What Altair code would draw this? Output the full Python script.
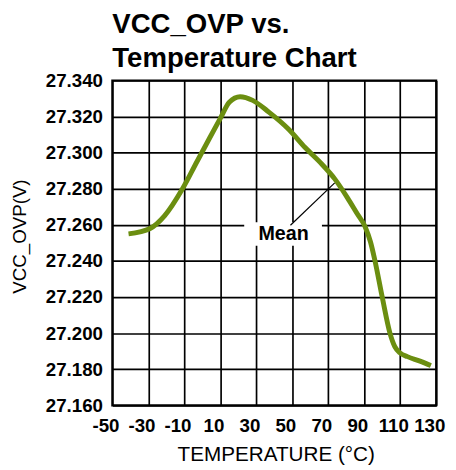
import altair as alt
import pandas as pd

# Mean curve
temps = [-41, -29, -21, -11, -3, 4, 10, 15, 21, 28, 37, 48, 57, 66.5, 73.6, 80.7,
         86.2, 90.5, 93.5, 96, 100, 104.3, 107, 110, 114, 121, 127]
vovp = [27.255, 27.258, 27.265, 27.280, 27.295, 27.308, 27.319, 27.328, 27.331,
        27.329, 27.3225, 27.313, 27.303, 27.2936, 27.2855, 27.275, 27.266, 27.259,
        27.2505, 27.240, 27.220, 27.200, 27.1925, 27.189, 27.187, 27.1845, 27.182]

x_ticks = [-50, -30, -10, 10, 30, 50, 70, 90, 110, 130]
y_ticks = [27.16, 27.18, 27.20, 27.22, 27.24, 27.26, 27.28, 27.30, 27.32, 27.34]

# "Mean" annotation (data coordinates)
label_text = ["Mean"]
label_x = [45.2]
label_y = [27.2516]
box_x = [23.3, 66.5]
box_y = [27.2484, 27.2615]
leader_x = [49.0, 73.6]
leader_y = [27.2598, 27.2833]

df = pd.DataFrame({"temp": temps, "v": vovp})
ann = pd.DataFrame({
    "label": label_text, "lx": label_x, "ly": label_y,
    "bx": [box_x[0]], "bx2": [box_x[1]], "by": [box_y[0]], "by2": [box_y[1]],
    "sx": [leader_x[0]], "sx2": [leader_x[1]], "sy": [leader_y[0]], "sy2": [leader_y[1]],
})

xscale = alt.Scale(domain=[-50, 130], nice=False, zero=False)
yscale = alt.Scale(domain=[27.16, 27.34], nice=False, zero=False)

xaxis = alt.Axis(values=x_ticks, title="TEMPERATURE (°C)", labelPadding=12,
                 labelExpr="'' + datum.value",
                 labelOffset=-7, labelFlush=False, labelOverlap=False,
                 titleX=166, titleY=56, titleBaseline="alphabetic", titleAlign="center")
yaxis = alt.Axis(values=y_ticks, format=".3f", title="VCC_OVP(V)", labelPadding=10,
                 labelFlush=False, labelOverlap=False, titleFontSize=19,
                 titleX=-88, titleY=158, titleAngle=270, titleBaseline="alphabetic",
                 titleAlign="center")

line = alt.Chart(df).mark_line(color="#6B8E10", strokeWidth=5, interpolate="monotone").encode(
    x=alt.X("temp:Q", scale=xscale, axis=xaxis),
    y=alt.Y("v:Q", scale=yscale, axis=yaxis),
)

box = alt.Chart(ann).mark_rect(color="white", opacity=1).encode(
    x=alt.X("bx:Q", scale=xscale, axis=xaxis), x2="bx2:Q",
    y=alt.Y("by:Q", scale=yscale, axis=yaxis), y2="by2:Q",
)

leader = alt.Chart(ann).mark_rule(color="black", strokeWidth=1.2).encode(
    x=alt.X("sx:Q", scale=xscale, axis=xaxis), x2="sx2:Q",
    y=alt.Y("sy:Q", scale=yscale, axis=yaxis), y2="sy2:Q",
)

label = alt.Chart(ann).mark_text(font="Liberation Sans", fontSize=20, fontWeight="bold",
                                 color="black", align="center", baseline="alphabetic").encode(
    x=alt.X("lx:Q", scale=xscale, axis=xaxis),
    y=alt.Y("ly:Q", scale=yscale, axis=yaxis),
    text="label:N",
)

chart = alt.layer(box, leader, label, line).properties(
    width=329, height=330,
    title=alt.TitleParams(["VCC_OVP vs.", "Temperature Chart"], anchor="start",
                          frame="group",
                          font="Liberation Sans", fontSize=28, fontWeight="bold",
                          color="black", lineHeight=34, offset=-1),
    autosize=alt.AutoSizeParams(type="none"),
    padding={"left": 106, "top": 70, "right": 12, "bottom": 62},
).configure_view(
    stroke="black", strokeWidth=2.2
).configure_axis(
    domain=False, ticks=False, grid=True, gridColor="black", gridWidth=1.7,
    gridOpacity=1, labelFont="Liberation Sans", labelFontSize=19,
    labelFontWeight="bold", labelColor="black", titleFont="Liberation Sans",
    titleFontSize=21, titleFontWeight="normal", titleColor="black",
)

chart.save("out.html", embed_options={"renderer": "svg", "actions": False})
